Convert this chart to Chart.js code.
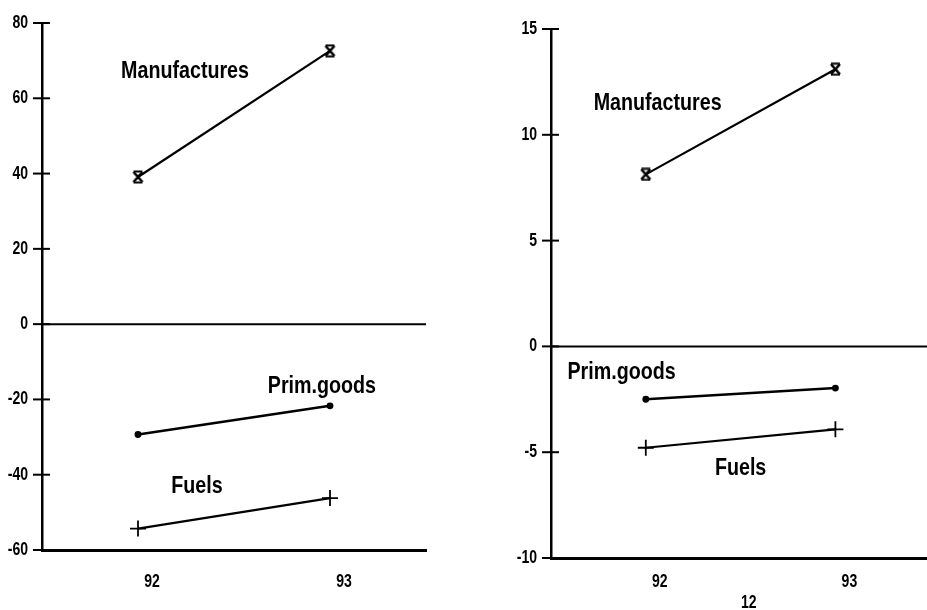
<!DOCTYPE html>
<html><head><meta charset="utf-8">
<script src="https://cdn.jsdelivr.net/npm/chart.js@4/dist/chart.umd.min.js"></script>
<style>
html,body{margin:0;padding:0;background:#fff;overflow:hidden;width:927px;height:610px;}
#left{position:absolute;left:0;top:0;width:460px;height:610px;}
#right{position:absolute;left:460px;top:0;width:480px;height:610px;}
#page{position:absolute;left:741px;top:592px;font:bold 18px 'Liberation Sans',Arial,sans-serif;color:#000;transform:scaleX(0.78);transform-origin:left top;}
</style></head><body>
<div id="left"><canvas id="c1"></canvas></div>
<div id="right"><canvas id="c2"></canvas></div>
<div id="page">12</div>
<script>
// ---- data ----
const years = ['92', '93'];
const seriesNames = ['Manufactures', 'Prim.goods', 'Fuels'];
const leftManufactures = [39.1, 72.6];
const leftPrimGoods = [-29.3, -21.7];
const leftFuels = [-54.3, -46.2];
const rightManufactures = [8.13, 13.1];
const rightPrimGoods = [-2.5, -1.97];
const rightFuels = [-4.79, -3.92];
const leftAxis = [-60, 80, 20];   // min, max, step
const rightAxis = [-10, 15, 5];

// label anchors (category index, value) for the in-plot series names
const leftLabelAt = [[0.245, 65.5], [0.958, -18.4], [0.307, -44.9]];
const rightLabelAt = [[0.0625, 11.16], [-0.128, -1.56], [0.5, -6.1]];

const FAM = "'Liberation Sans',Arial,sans-serif";

function narrowText(ctx, text, x, y, size, sx, align, base) {
  ctx.save();
  ctx.translate(x, y); ctx.scale(sx, 1);
  ctx.font = 'bold ' + size + 'px ' + FAM;
  ctx.textAlign = align; ctx.textBaseline = base;
  ctx.fillStyle = '#000';
  ctx.fillText(text, 0, 0);
  ctx.restore();
}

function hourglass() {
  const c = document.createElement('canvas'); c.width = 13; c.height = 14;
  const g = c.getContext('2d'); g.strokeStyle = '#000'; g.lineWidth = 2.6;
  g.beginPath();
  g.moveTo(2, 2); g.lineTo(11, 12); g.moveTo(11, 2); g.lineTo(2, 12);
  g.stroke();
  g.lineWidth = 2;
  g.beginPath();
  g.moveTo(2, 1.5); g.lineTo(11, 1.5); g.moveTo(2, 12.5); g.lineTo(11, 12.5);
  g.stroke(); return c;
}
const hg = hourglass();

const decor = {
  id: 'decor',
  beforeDatasetsDraw(chart) {
    const ctx = chart.ctx, y = chart.scales.y, a = chart.chartArea;
    ctx.save(); ctx.strokeStyle = '#000'; ctx.lineWidth = 2;
    const y0 = y.getPixelForValue(0);
    ctx.beginPath(); ctx.moveTo(a.left, y0); ctx.lineTo(a.right, y0); ctx.stroke();
    y.ticks.forEach((t, i) => {
      const py = y.getPixelForTick(i);
      ctx.beginPath(); ctx.moveTo(a.left - 9, py); ctx.lineTo(a.left + 8, py); ctx.stroke();
    });
    ctx.restore();
  },
  afterDraw(chart, args, opts) {
    const ctx = chart.ctx, x = chart.scales.x, y = chart.scales.y, a = chart.chartArea;
    // y tick labels
    y.ticks.forEach((t, i) => {
      narrowText(ctx, String(t.value), a.left - 14, y.getPixelForTick(i), 18, 0.78, 'right', 'middle');
    });
    // x tick labels
    x.ticks.forEach((t, i) => {
      narrowText(ctx, x.getLabelForValue(t.value), x.getPixelForTick(i) + 14, 582, 18, 0.78, 'center', 'middle');
    });
    // series names
    seriesNames.forEach((n, i) => {
      const p = opts.at[i];
      narrowText(ctx, n, x.getPixelForValue(p[0]), y.getPixelForValue(p[1]), 24, 0.82, 'center', 'alphabetic');
    });
  }
};

function makeChart(id, man, prim, fuel, axis, at, yWidth, pad, xHeight) {
  const base = { borderColor: '#000', backgroundColor: '#000', borderWidth: 2.2, tension: 0, fill: false, pointBorderColor: '#000', pointBackgroundColor: '#000' };
  return new Chart(document.getElementById(id), {
    type: 'line',
    data: {
      labels: years,
      datasets: [
        Object.assign({}, base, { label: seriesNames[0], data: man, pointStyle: hg, pointRadius: 7 }),
        Object.assign({}, base, { label: seriesNames[1], data: prim, pointStyle: 'circle', pointRadius: 2.2, borderWidth: 2.5 }),
        Object.assign({}, base, { label: seriesNames[2], data: fuel, pointStyle: 'cross', pointRadius: 8, pointBorderWidth: 1.8 })
      ]
    },
    plugins: [decor],
    options: {
      responsive: true, maintainAspectRatio: false, animation: false,
      layout: { padding: pad },
      plugins: { legend: { display: false }, tooltip: { enabled: false }, decor: { at: at } },
      scales: {
        x: {
          type: 'category', offset: true,
          grid: { display: false, drawTicks: false },
          border: { display: true, width: 3, color: '#000' },
          ticks: { display: false },
          afterFit: s => { s.height = xHeight; }
        },
        y: {
          min: axis[0], max: axis[1],
          grid: { display: false, drawTicks: false },
          border: { display: true, width: 2.5, color: '#000' },
          ticks: { stepSize: axis[2], display: false },
          afterFit: s => { s.width = yWidth; }
        }
      }
    }
  });
}

makeChart('c1', leftManufactures, leftPrimGoods, leftFuels, leftAxis, leftLabelAt, 42, { top: 23, right: 34, bottom: 0, left: 0 }, 60);
makeChart('c2', rightManufactures, rightPrimGoods, rightFuels, rightAxis, rightLabelAt, 91, { top: 29, right: 5, bottom: 0, left: 0 }, 52);
</script>
</body></html>
